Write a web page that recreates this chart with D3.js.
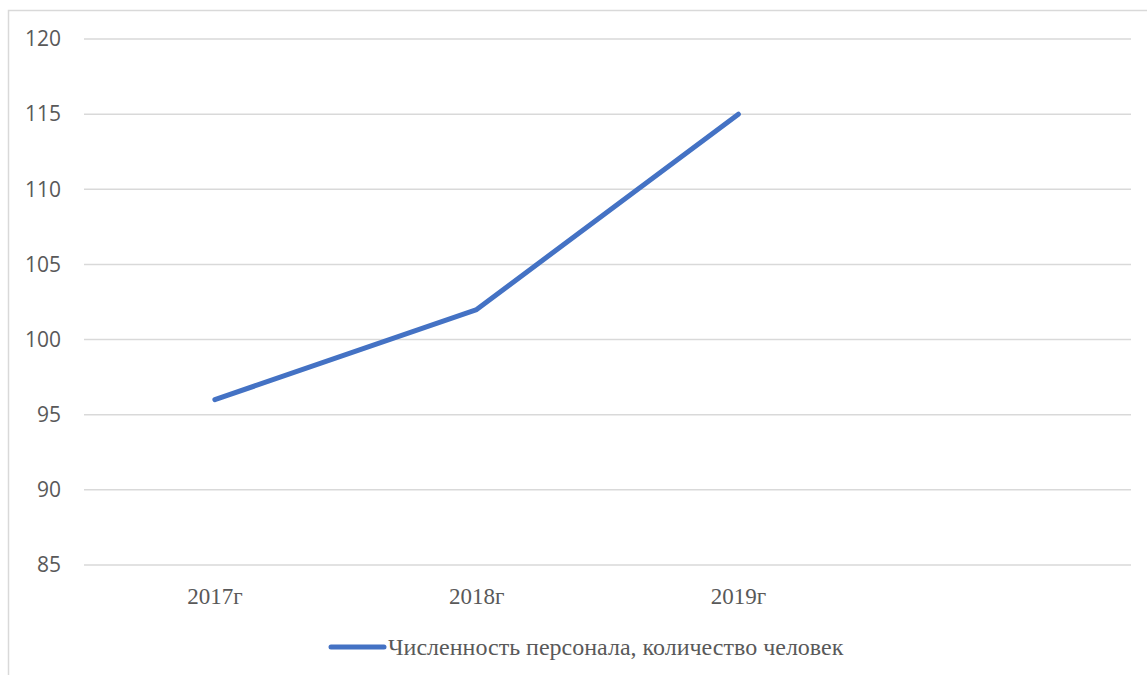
<!DOCTYPE html>
<html>
<head>
<meta charset="utf-8">
<script src="https://cdn.jsdelivr.net/npm/d3@7"></script>
<style>
  body { margin: 0; background: #fff; }
</style>
</head>
<body>
<div id="chart"></div>
<script>
// chart data
var categories = ["2017г", "2018г", "2019г", ""];
var staffCount = [96, 102, 115];
var yTicks = [85, 90, 95, 100, 105, 110, 115, 120];
var seriesName = "Численность персонала, количество человек";

var width = 1147, height = 675;
var margin = {top: 39, right: 16, bottom: 110, left: 84};
var plotW = width - margin.left - margin.right,
    plotH = height - margin.top - margin.bottom;

var svg = d3.select("#chart").append("svg")
    .attr("width", width)
    .attr("height", height);

// outer frame (cut off at right and bottom, like the picture)
svg.append("rect")
    .attr("x", 8.5).attr("y", 10.5)
    .attr("width", 1200).attr("height", 1000)
    .attr("fill", "none")
    .attr("stroke", "#d9d9d9")
    .attr("stroke-width", 1.5);

var g = svg.append("g")
    .attr("transform", "translate(" + margin.left + "," + margin.top + ")");

var x = d3.scaleBand().domain(categories).range([0, plotW]);
var y = d3.scaleLinear().domain([85, 120]).range([plotH, 0]);

// horizontal gridlines
g.selectAll(".grid")
    .data(yTicks)
    .enter().append("line")
    .attr("x1", 0).attr("x2", plotW)
    .attr("y1", function(d) { return y(d); })
    .attr("y2", function(d) { return y(d); })
    .attr("stroke", "#d9d9d9")
    .attr("stroke-width", 1.5);

// y labels
g.selectAll(".ylab")
    .data(yTicks)
    .enter().append("text")
    .attr("x", -23)
    .attr("y", function(d) { return y(d); })
    .attr("dy", "0.35em")
    .attr("text-anchor", "end")
    .attr("font-family", "'Open Sans', 'Liberation Sans', sans-serif")
    .attr("font-size", 21)
    .attr("fill", "#595959")
    .text(function(d) { return d; });

// x labels
g.selectAll(".xlab")
    .data(categories)
    .enter().append("text")
    .attr("x", function(d) { return x(d) + x.bandwidth() / 2; })
    .attr("y", plotH + 39)
    .attr("text-anchor", "middle")
    .attr("font-family", "'Liberation Serif', 'Times New Roman', serif")
    .attr("font-size", 23)
    .attr("fill", "#595959")
    .text(function(d) { return d; });

// the line
var line = d3.line()
    .x(function(d, i) { return x(categories[i]) + x.bandwidth() / 2; })
    .y(function(d) { return y(d); });

g.append("path")
    .datum(staffCount)
    .attr("d", line)
    .attr("fill", "none")
    .attr("stroke", "#4472c4")
    .attr("stroke-width", 5)
    .attr("stroke-linecap", "round")
    .attr("stroke-linejoin", "round");

// legend
var legend = svg.append("g").attr("transform", "translate(331,647)");
legend.append("line")
    .attr("x1", 0).attr("x2", 53)
    .attr("stroke", "#4472c4")
    .attr("stroke-width", 5)
    .attr("stroke-linecap", "round");
legend.append("text")
    .attr("x", 57)
    .attr("dy", "0.33em")
    .attr("font-family", "'Liberation Serif', 'Times New Roman', serif")
    .attr("font-size", 24)
    .attr("fill", "#595959")
    .text(seriesName);
</script>
</body>
</html>
